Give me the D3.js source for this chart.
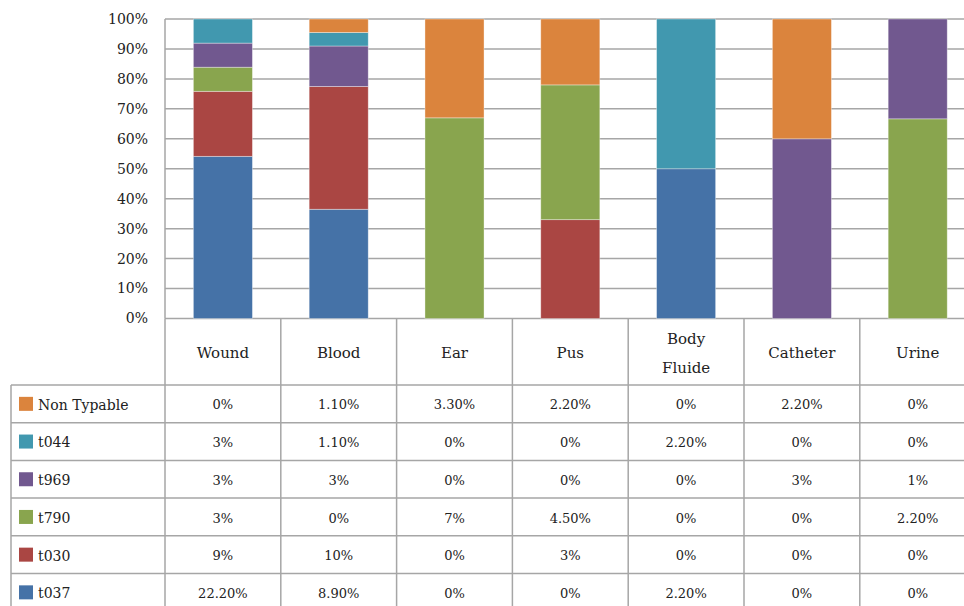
<!DOCTYPE html>
<html>
<head>
<meta charset="utf-8">
<script src="https://cdn.jsdelivr.net/npm/d3@7"></script>
<style>
  body { margin: 0; background: #fff; }
  svg { display: block; font-family: "DejaVu Serif", serif; }
</style>
</head>
<body>
<div id="chart"></div>
<script>
// Sample sources (columns) and spa types (series)
const categories = ["Wound", "Blood", "Ear", "Pus", "Body Fluide", "Catheter", "Urine"]
const seriesNames = ["Non Typable", "t044", "t969", "t790", "t030", "t037"]

// values behind the bars (percent of all isolates)
const nonTypable = [0, 1.1, 3.3, 2.2, 0, 2.2, 0]
const t044 = [3.3, 1.1, 0, 0, 2.2, 0, 0]
const t969 = [3.3, 3.3, 0, 0, 0, 3.3, 1.1]
const t790 = [3.3, 0, 6.7, 4.5, 0, 0, 2.2]
const t030 = [8.9, 10, 0, 3.3, 0, 0, 0]
const t037 = [22.2, 8.9, 0, 0, 2.2, 0, 0]

// text printed in the data table
const nonTypableText = ["0%", "1.10%", "3.30%", "2.20%", "0%", "2.20%", "0%"]
const t044Text = ["3%", "1.10%", "0%", "0%", "2.20%", "0%", "0%"]
const t969Text = ["3%", "3%", "0%", "0%", "0%", "3%", "1%"]
const t790Text = ["3%", "0%", "7%", "4.50%", "0%", "0%", "2.20%"]
const t030Text = ["9%", "10%", "0%", "3%", "0%", "0%", "0%"]
const t037Text = ["22.20%", "8.90%", "0%", "0%", "2.20%", "0%", "0%"]

const yTicks = [0, 0.1, 0.2, 0.3, 0.4, 0.5, 0.6, 0.7, 0.8, 0.9, 1]

const colors = {"Non Typable": "#db843d", "t044": "#4198af", "t969": "#71588f",
                "t790": "#89a54e", "t030": "#aa4643", "t037": "#4572a7"}
const valuesBySeries = {"Non Typable": nonTypable, "t044": t044, "t969": t969,
                        "t790": t790, "t030": t030, "t037": t037}
const textBySeries = {"Non Typable": nonTypableText, "t044": t044Text, "t969": t969Text,
                      "t790": t790Text, "t030": t030Text, "t037": t037Text}

const W = 964, H = 606
const plotLeft = 165, plotTop = 19, plotBottom = 318.5
const step = 115.8
const headerBottom = 385, rowH = 37.7
const tableLeft = 11
const lineColor = "#a6a6a6"
const textColor = "#222"

const svg = d3.select("#chart").append("svg")
    .attr("width", W)
    .attr("height", H)

const x = d3.scaleBand()
    .domain(categories)
    .range([plotLeft, plotLeft + step * categories.length])
    .paddingInner(0.49)
    .paddingOuter(0.245)

const y = d3.scaleLinear()
    .domain([0, 1])
    .range([plotBottom, plotTop])

// rows of the table, top to bottom
const rowY = d3.scaleBand()
    .domain(seriesNames)
    .range([headerBottom, headerBottom + rowH * seriesNames.length])

// gridlines
svg.append("g")
    .selectAll("line")
    .data(yTicks)
    .enter()
    .append("line")
    .attr("x1", plotLeft)
    .attr("x2", W)
    .attr("y1", d => y(d))
    .attr("y2", d => y(d))
    .style("stroke", lineColor)
    .style("stroke-width", 1.5)

// y axis labels
svg.append("g")
    .selectAll("text")
    .data(yTicks)
    .enter()
    .append("text")
    .attr("x", 148)
    .attr("y", d => y(d))
    .attr("dy", "0.35em")
    .attr("text-anchor", "end")
    .style("font-size", "14px")
    .style("fill", textColor)
    .text(d3.format(".0%"))

svg.append("line")
    .attr("x1", plotLeft).attr("x2", plotLeft)
    .attr("y1", plotTop).attr("y2", plotBottom)
    .style("stroke", lineColor)
    .style("stroke-width", 1.5)

// stacked 100% bars, t037 at the bottom
const stackOrder = seriesNames.slice().reverse()
const rows = categories.map((c, i) => {
    const r = {category: c}
    stackOrder.forEach(s => r[s] = valuesBySeries[s][i])
    return r
})
const stacked = d3.stack()
    .keys(stackOrder)
    .offset(d3.stackOffsetExpand)(rows)

svg.append("g")
    .selectAll("g")
    .data(stacked)
    .enter()
    .append("g")
    .style("fill", d => colors[d.key])
    .selectAll("rect")
    .data(d => d)
    .enter()
    .append("rect")
    .attr("x", d => x(d.data.category))
    .attr("width", x.bandwidth())
    .attr("y", d => y(d[1]))
    .attr("height", d => y(d[0]) - y(d[1]))
    .style("stroke", "rgba(255,255,255,0.45)")
    .style("stroke-width", 0.8)

// data table
const table = svg.append("g")
const tableRight = plotLeft + step * categories.length
const tableBottom = headerBottom + rowH * seriesNames.length

// horizontal rules
table.selectAll("line.h")
    .data(seriesNames.map(s => rowY(s)).concat([tableBottom]))
    .enter()
    .append("line")
    .attr("class", "h")
    .attr("x1", tableLeft)
    .attr("x2", tableRight)
    .attr("y1", d => d)
    .attr("y2", d => d)
    .style("stroke", lineColor)
    .style("stroke-width", 1.5)

// vertical rules between columns
table.selectAll("line.v")
    .data(d3.range(categories.length + 1))
    .enter()
    .append("line")
    .attr("class", "v")
    .attr("x1", i => plotLeft + step * i)
    .attr("x2", i => plotLeft + step * i)
    .attr("y1", plotBottom)
    .attr("y2", tableBottom)
    .style("stroke", lineColor)
    .style("stroke-width", 1.5)

table.append("line")
    .attr("x1", tableLeft).attr("x2", tableLeft)
    .attr("y1", headerBottom).attr("y2", tableBottom)
    .style("stroke", lineColor)
    .style("stroke-width", 1.5)

// column headers
const headerMid = (plotBottom + headerBottom) / 2 + 1
table.selectAll("text.head")
    .data(categories)
    .enter()
    .append("text")
    .attr("class", "head")
    .attr("x", d => x(d) + x.bandwidth() / 2)
    .attr("y", headerMid)
    .attr("text-anchor", "middle")
    .style("font-size", "15px")
    .style("fill", textColor)
    .each(function(d) {
        const words = d.split(" ")
        const t = d3.select(this)
        words.forEach((w, k) => {
            t.append("tspan")
                .attr("x", x(d) + x.bandwidth() / 2)
                .attr("y", headerMid + (k - (words.length - 1) / 2) * 29)
                .attr("dy", "0.35em")
                .text(w)
        })
    })

// legend keys and series names
const legendRows = table.selectAll("g.row")
    .data(seriesNames)
    .enter()
    .append("g")
    .attr("class", "row")
    .attr("transform", d => "translate(0," + (rowY(d) + rowY.bandwidth() / 2 + 1) + ")")

legendRows.append("rect")
    .attr("x", 19)
    .attr("y", -8)
    .attr("width", 14)
    .attr("height", 14)
    .style("fill", d => colors[d])

legendRows.append("text")
    .attr("x", 38)
    .attr("dy", "0.35em")
    .style("font-size", "14px")
    .style("fill", textColor)
    .text(d => d)

// cell values
legendRows.selectAll("text.cell")
    .data(d => textBySeries[d].map((t, i) => ({t: t, c: categories[i]})))
    .enter()
    .append("text")
    .attr("class", "cell")
    .attr("x", d => x(d.c) + x.bandwidth() / 2)
    .attr("dy", "0.35em")
    .attr("text-anchor", "middle")
    .style("font-size", "13px")
    .style("fill", textColor)
    .text(d => d.t)
</script>
</body>
</html>
